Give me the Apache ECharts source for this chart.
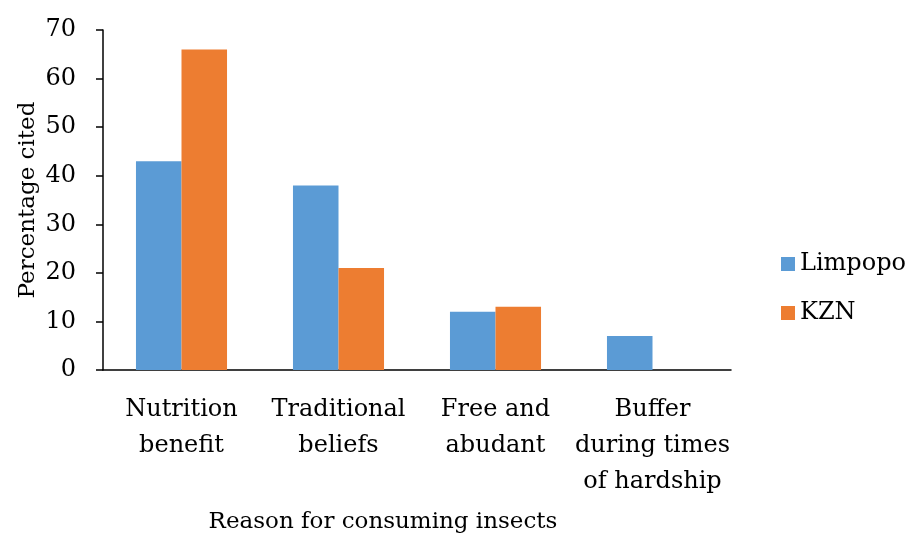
<!DOCTYPE html>
<html><head><meta charset="utf-8">
<script src="https://cdn.jsdelivr.net/npm/echarts@6/dist/echarts.min.js"></script>
<style>html,body{margin:0;padding:0;background:#fff}#c{width:909px;height:538px}</style>
</head><body><div id="c"></div>
<script>
var categories = ['Nutrition\nbenefit', 'Traditional\nbeliefs', 'Free and\nabudant', 'Buffer\nduring times\nof hardship'];
var limpopo = [43, 38, 12, 7];
var kzn = [66, 21, 13, 0];
var yTicks = [0, 10, 20, 30, 40, 50, 60, 70];
var FONT = 'DejaVu Serif';
var FS = 24;
var chart = echarts.init(document.getElementById('c'), null, {renderer: 'canvas'});
chart.setOption({
  animation: false,
  textStyle: {fontFamily: FONT},
  grid: {left: 103, right: 178, top: 30, bottom: 168, containLabel: false},
  legend: {
    orient: 'vertical', left: 776, top: 247, itemWidth: 14, itemHeight: 14, itemGap: 25,
    icon: 'rect',
    textStyle: {fontFamily: FONT, fontSize: FS, color: '#000'},
    data: ['Limpopo', 'KZN']
  },
  xAxis: {
    type: 'category', data: categories,
    axisLine: {lineStyle: {color: '#000', width: 1.5}},
    axisTick: {show: false},
    axisLabel: {interval: 0, color: '#000', fontFamily: FONT, fontSize: FS, lineHeight: 36, margin: 22}
  },
  yAxis: {
    type: 'value', min: yTicks[0], max: yTicks[yTicks.length - 1], interval: 10,
    axisLine: {show: true, lineStyle: {color: '#000', width: 1.5}},
    axisTick: {show: true, length: 7, lineStyle: {color: '#000', width: 1.5}},
    axisLabel: {color: '#000', fontFamily: FONT, fontSize: FS, margin: 27},
    splitLine: {show: false}
  },
  graphic: [{
    type: 'text', x: 383, y: 522,
    style: {text: 'Reason for consuming insects', font: '23px "DejaVu Serif"', fill: '#000', align: 'center', verticalAlign: 'middle'}
  }, {
    type: 'text', x: 28, y: 200, rotation: Math.PI / 2,
    style: {text: 'Percentage cited', font: '23px "DejaVu Serif"', fill: '#000', align: 'center', verticalAlign: 'middle'}
  }],
  series: [
    {name: 'Limpopo', type: 'bar', data: limpopo, barGap: '0%', barCategoryGap: '42%', itemStyle: {color: '#5B9BD5'}},
    {name: 'KZN', type: 'bar', data: kzn, itemStyle: {color: '#ED7D31'}}
  ]
});
</script></body></html>
